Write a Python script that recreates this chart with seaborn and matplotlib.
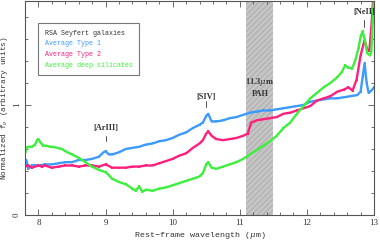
import matplotlib
matplotlib.use("Agg")
import matplotlib.pyplot as plt
import seaborn as sns
import numpy as np
import pandas as pd
from matplotlib.ticker import MultipleLocator, FixedLocator
from matplotlib.lines import Line2D

# ---------------- data ----------------
wl_type1 = [7.80, 7.82, 7.85, 7.90, 7.95, 8.00, 8.10, 8.20, 8.30, 8.40, 8.50, 8.60, 8.70,
            8.80, 8.90, 8.97, 9.00, 9.05, 9.10, 9.20, 9.30, 9.40, 9.50, 9.60, 9.70, 9.80,
            9.90, 10.00, 10.10, 10.20, 10.30, 10.40, 10.45, 10.50, 10.53, 10.58, 10.65,
            10.75, 10.85, 10.95, 11.05, 11.15, 11.25, 11.35, 11.45, 11.55, 11.65, 11.75,
            11.85, 11.95, 12.05, 12.15, 12.25, 12.35, 12.45, 12.55, 12.65, 12.75, 12.80,
            12.83, 12.86, 12.89, 12.92, 12.96, 13.00]
flux_type1 = [0.44, 0.50, 0.42, 0.45, 0.45, 0.45, 0.46, 0.46, 0.47, 0.48, 0.48, 0.50, 0.50,
              0.51, 0.53, 0.57, 0.58, 0.55, 0.55, 0.57, 0.60, 0.61, 0.62, 0.64, 0.65, 0.67,
              0.68, 0.70, 0.73, 0.75, 0.79, 0.82, 0.84, 0.90, 0.92, 0.85, 0.85,
              0.86, 0.88, 0.89, 0.91, 0.93, 0.94, 0.95, 0.95, 0.96, 0.97, 0.98,
              0.99, 1.00, 1.03, 1.04, 1.05, 1.06, 1.06, 1.07, 1.08, 1.09, 1.12,
              1.25, 1.38, 1.20, 1.11, 1.13, 1.16]

wl_type2 = [7.80, 7.85, 7.90, 8.00, 8.05, 8.10, 8.20, 8.30, 8.40, 8.50, 8.60, 8.70, 8.80,
            8.90, 9.00, 9.10, 9.20, 9.30, 9.40, 9.50, 9.60, 9.70, 9.80, 9.90, 10.00, 10.10,
            10.20, 10.30, 10.40, 10.45, 10.50, 10.53, 10.58, 10.65, 10.75, 10.85, 10.95,
            11.05, 11.12, 11.17, 11.25, 11.35, 11.45, 11.55, 11.65, 11.75, 11.85, 11.95,
            12.05, 12.15, 12.25, 12.35, 12.45, 12.55, 12.62, 12.68, 12.74, 12.80, 12.86,
            12.90, 12.93, 12.96, 12.99]
flux_type2 = [0.44, 0.45, 0.43, 0.45, 0.44, 0.45, 0.43, 0.44, 0.45, 0.45, 0.44, 0.45, 0.45,
              0.44, 0.46, 0.43, 0.43, 0.43, 0.44, 0.44, 0.45, 0.45, 0.47, 0.49, 0.51, 0.54,
              0.56, 0.61, 0.65, 0.68, 0.74, 0.76, 0.72, 0.69, 0.68, 0.69, 0.70,
              0.72, 0.74, 0.84, 0.86, 0.87, 0.88, 0.89, 0.92, 0.93, 0.95, 0.97,
              0.99, 1.04, 1.06, 1.08, 1.12, 1.14, 1.16, 1.13, 1.23, 1.45, 1.59,
              1.50, 1.49, 1.70, 1.98]

wl_deep = [7.80, 7.82, 7.85, 7.90, 7.95, 7.98, 8.00, 8.03, 8.07, 8.12, 8.17, 8.22, 8.28,
           8.35, 8.40, 8.50, 8.60, 8.70, 8.80, 8.90, 9.00, 9.05, 9.10, 9.20, 9.30, 9.40,
           9.45, 9.50, 9.55, 9.60, 9.70, 9.80, 9.90, 10.00, 10.10, 10.20, 10.30, 10.40,
           10.45, 10.50, 10.53, 10.58, 10.65, 10.75, 10.85, 10.95, 11.05, 11.15, 11.25,
           11.35, 11.45, 11.55, 11.65, 11.75, 11.85, 11.95, 12.05, 12.15, 12.25, 12.35,
           12.45, 12.52, 12.57, 12.62, 12.67, 12.72, 12.77, 12.80, 12.83, 12.86, 12.90,
           12.94, 12.96, 12.98, 13.00]
flux_deep = [0.56, 0.61, 0.62, 0.62, 0.64, 0.68, 0.69, 0.66, 0.63, 0.63, 0.62, 0.62, 0.61,
             0.60, 0.58, 0.55, 0.52, 0.48, 0.44, 0.41, 0.39, 0.36, 0.33, 0.30, 0.28, 0.24,
             0.22, 0.26, 0.21, 0.23, 0.22, 0.24, 0.25, 0.27, 0.29, 0.31, 0.33, 0.35,
             0.38, 0.46, 0.48, 0.43, 0.42, 0.44, 0.46, 0.48, 0.51, 0.55, 0.59,
             0.63, 0.67, 0.72, 0.79, 0.84, 0.92, 0.99, 1.06, 1.11, 1.16, 1.20,
             1.25, 1.30, 1.36, 1.34, 1.33, 1.40, 1.52, 1.62, 1.67, 1.60, 1.47,
             1.45, 1.48, 1.75, 1.98]

series_labels = ["Average Type 1", "Average Type 2", "Average deep silicates"]
legend_title = "RSA Seyfert galaxies"
line_names = ["[ArIII]", "[SIV]", "[NeII]"]
line_wl = [9.0, 10.5, 12.85]
pah_band = [11.1, 11.5]
pah_label = "11.3$\\mu$m\nPAH"

colors = ["#3d9bff", "#ff1f7c", "#3cf03c"]
text_grey = "#333333"

# ---------------- figure ----------------
sns.set_theme(style="ticks")
plt.rcParams["font.family"] = ["Liberation Mono", "DejaVu Sans"]
plt.rcParams["mathtext.fontset"] = "dejavuserif"

fig = plt.figure(figsize=(3.8, 2.45), dpi=100)
ax = fig.add_axes([25/380, 30/245, 349/380, 214/245])

ax.axvspan(pah_band[0], pah_band[1], facecolor="#c6c6c6", edgecolor="#b2b2b2",
           hatch="//////", linewidth=0, zorder=0)

frames = []
for wl, fl, lab in zip([wl_type1, wl_type2, wl_deep],
                       [flux_type1, flux_type2, flux_deep], series_labels):
    frames.append(pd.DataFrame({"wl": wl, "flux": fl, "series": lab}))
df = pd.concat(frames, ignore_index=True)

sns.lineplot(data=df, x="wl", y="flux", hue="series", palette=dict(zip(series_labels, colors)),
             hue_order=series_labels, sort=False, linewidth=1.7, ax=ax, legend=False,
             marker="s", markersize=1.8, markeredgewidth=0)

ax.set_xlim(7.8, 13.0)
ax.set_ylim(0, 1.945)

ax.xaxis.set_major_locator(MultipleLocator(1))
ax.xaxis.set_minor_locator(MultipleLocator(0.2))
ax.yaxis.set_major_locator(FixedLocator([0, 1]))
ax.yaxis.set_minor_locator(MultipleLocator(0.2))
ax.tick_params(which="both", direction="in", top=True, right=True, colors="#555555",
               labelcolor=text_grey, width=0.6)
ax.tick_params(which="major", length=4, labelsize=6.5, pad=3)
ax.tick_params(which="minor", length=2)
for lab in ax.get_xticklabels() + ax.get_yticklabels():
    lab.set_family(["Liberation Serif"])
for lab in ax.get_yticklabels():
    lab.set_rotation(90)
    lab.set_va("center")
for s in ax.spines.values():
    s.set_color("#555555")
    s.set_linewidth(0.8)

ax.set_xlabel("Rest\u2212frame wavelength ($\\mu$m)", fontsize=6.0, color=text_grey)
ax.set_ylabel("Normalized f$_\\nu$ (arbitrary units)", fontsize=5.6, color=text_grey)
ax.xaxis.set_label_coords(0.5, -0.072)
ax.yaxis.set_label_coords(-0.043, 0.5)

# line annotations
label_y = [0.79, 1.07, 1.845]
tick_y = [(0.67, 0.72), (0.98, 1.04), (1.71, 1.77)]
for name, w, ly, (t0, t1) in zip(line_names, line_wl, label_y, tick_y):
    ax.text(w, ly, name, ha="center", va="center", fontsize=6, color=text_grey,
            family=["Liberation Serif"], fontweight="bold")
    ax.plot([w, w], [t0, t1], color=text_grey, lw=0.6)

ax.text(np.mean(pah_band), 1.16, pah_label, ha="center", va="center", fontsize=6,
        color=text_grey, family=["Liberation Serif"], fontweight="bold", linespacing=1.3)

# legend
handles = [Line2D([], [], color=c, lw=0) for c in colors]
leg = ax.legend(handles, series_labels, title=legend_title, loc="upper left",
                bbox_to_anchor=(0.037, 0.897), borderaxespad=0, handlelength=0,
                handletextpad=0, labelcolor=colors, fontsize=4.8, title_fontsize=4.8,
                frameon=True, fancybox=False, edgecolor="#777777", framealpha=1,
                borderpad=1.0, labelspacing=0.55)
leg._legend_box.align = "left"
leg.get_title().set_color(text_grey)
leg.get_frame().set_linewidth(0.8)

fig.savefig("out.png", dpi=100)
